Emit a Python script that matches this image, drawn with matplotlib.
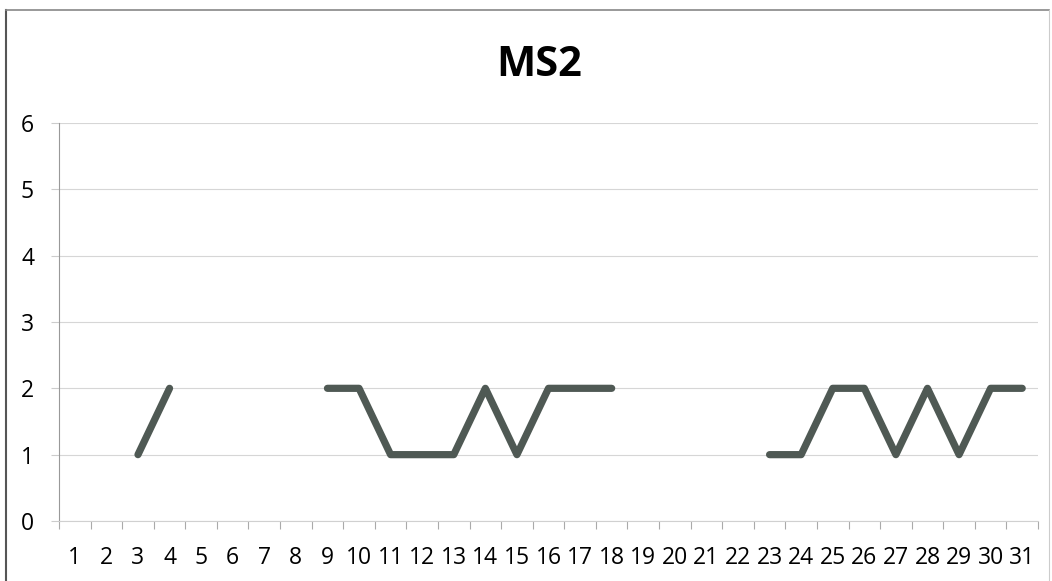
import numpy as np
import matplotlib
matplotlib.use("Agg")
import matplotlib.pyplot as plt
from matplotlib.lines import Line2D

# days of the month and MS2 values (gaps where no reading)
days = list(range(1, 32))
ms2 = [np.nan, np.nan, 1, 2, np.nan, np.nan, np.nan, np.nan, 2, 2,
       1, 1, 1, 2, 1, 2, 2, 2, np.nan, np.nan,
       np.nan, np.nan, 1, 1, 2, 2, 1, 2, 1, 2, 2]
y_ticks = [0, 1, 2, 3, 4, 5, 6]

plt.rcParams['font.family'] = ['Open Sans', 'DejaVu Sans']

fig = plt.figure(figsize=(10.52, 5.81), dpi=100)
ax = fig.add_axes([0.0561, 0.1033, 0.9306, 0.685])

# chart border like the excel chart area (left, top, right)
border = '#555555'
fig.add_artist(Line2D([0.006, 0.006], [0.0, 0.983], transform=fig.transFigure, color=border, lw=1.5))
fig.add_artist(Line2D([0.006, 0.997], [0.983, 0.983], transform=fig.transFigure, color='#888888', lw=1.2))
fig.add_artist(Line2D([0.997, 0.997], [0.0, 0.983], transform=fig.transFigure, color='#cccccc', lw=0.8))

ax.plot(days, ms2, color='#4f5954', linewidth=5.2, solid_capstyle='round', solid_joinstyle='round')

ax.set_xlim(0.5, 31.5)
ax.set_ylim(0, 6)
ax.set_yticks(y_ticks)
ax.set_xticks(days)
ax.set_xticks(np.arange(0.5, 32, 1), minor=True)
ax.tick_params(axis='x', which='major', length=0, pad=18, labelsize=16.5)
ax.tick_params(axis='x', which='minor', length=6, color='#aaaaaa', width=0.8)
ax.tick_params(axis='y', length=6, color='#cccccc', width=0.8, labelsize=16.5, pad=12)

ax.grid(axis='y', color='#d6d6d6', linewidth=0.8)
ax.set_axisbelow(True)
for s in ['top', 'right']:
    ax.spines[s].set_visible(False)
ax.spines['left'].set_color('#999999')
ax.spines['bottom'].set_color('#d0d0d0')
ax.spines['left'].set_linewidth(0.8)
ax.spines['bottom'].set_linewidth(0.8)

fig.text(0.513, 0.888, 'MS2', ha='center', va='center', fontsize=30, fontweight='bold')

fig.savefig('out.png', dpi=100)
